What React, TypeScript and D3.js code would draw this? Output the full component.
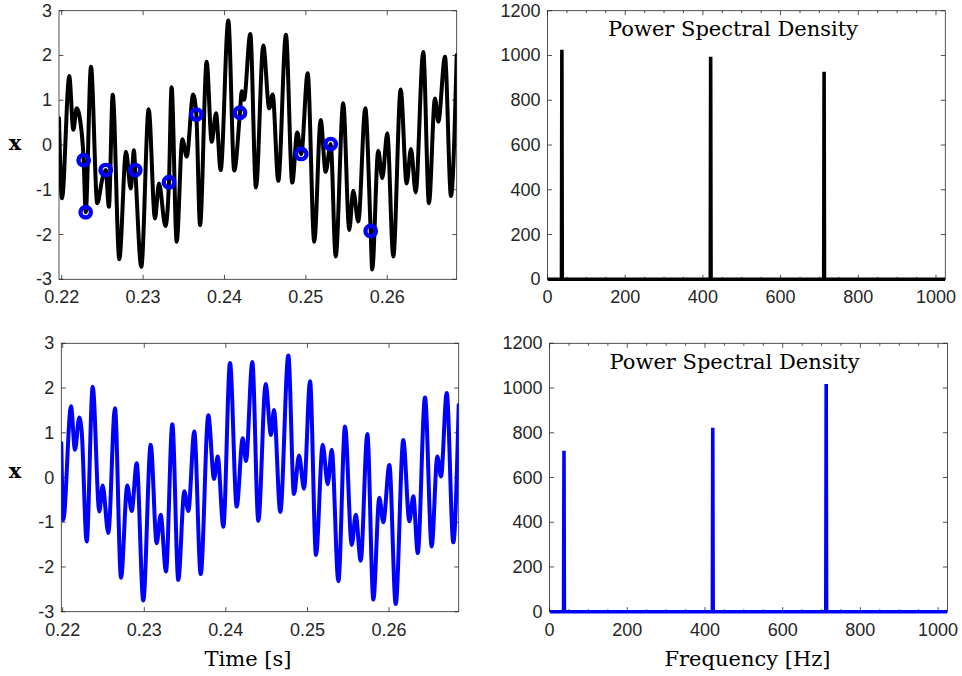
import React from 'react';
import * as d3 from 'd3';

// ---------- data ----------
const timeTop = [
  0.21967, 0.22004, 0.22093, 0.22143, 0.22184, 0.22216, 0.22270, 0.22295, 0.22360, 0.22437,
  0.22500, 0.22541, 0.22580, 0.22627, 0.22708, 0.22790, 0.22848, 0.22888, 0.22904, 0.22978,
  0.23069, 0.23146, 0.23195, 0.23275, 0.23318, 0.23350, 0.23413, 0.23482, 0.23536, 0.23615,
  0.23654, 0.23700, 0.23781, 0.23843, 0.23896, 0.23953, 0.24047, 0.24120, 0.24190, 0.24212,
  0.24240, 0.24317, 0.24387, 0.24477, 0.24550, 0.24592, 0.24661, 0.24755, 0.24833, 0.24894,
  0.24943, 0.25022, 0.25103, 0.25182, 0.25243, 0.25305, 0.25366, 0.25459, 0.25533, 0.25582,
  0.25644, 0.25730, 0.25796, 0.25815, 0.25889, 0.25939, 0.26000, 0.26074, 0.26165, 0.26238,
  0.26291, 0.26349, 0.26442, 0.26512, 0.26586, 0.26627, 0.26709, 0.26783, 0.26853,
];
const signalTop = [
  0.60, -1.19, 1.54, 0.34, 0.82, 0.67, -0.34, -1.50, 1.75, -1.30,
  -0.75, -0.56, -1.38, 1.12, -2.55, -0.15, -0.97, -0.12, -0.56, -2.72,
  0.80, -1.64, -0.86, -1.81, -0.83, 1.29, -2.16, 0.13, -0.26, 1.13,
  0.68, -1.79, 1.86, 0.07, 0.71, -0.56, 2.78, -0.57, 0.72, 1.20,
  1.01, 2.48, -0.95, 2.22, 0.82, 1.13, -0.80, 2.46, -0.84, 0.28,
  -0.20, 1.60, -2.16, 0.56, -0.60, 0.02, -2.49, 0.93, -1.90, -1.02,
  -1.71, 0.82, -1.92, -2.78, -0.13, -0.74, 0.26, -2.49, 1.24, -0.86,
  -0.09, -1.06, 2.08, -1.30, 1.04, 0.52, 1.97, -1.14, 2.01,
];
const sampleTimes = [0.22270, 0.22295, 0.22541, 0.22904, 0.23318, 0.23654, 0.24190, 0.24943, 0.25305, 0.25796];
const sampleValues = [-0.34, -1.50, -0.56, -0.56, -0.83, 0.68, 0.72, -0.20, 0.02, -1.92];

const timeBottom = [
  0.21983, 0.22007, 0.22102, 0.22151, 0.22203, 0.22233, 0.22294, 0.22368, 0.22449, 0.22490,
  0.22559, 0.22641, 0.22715, 0.22792, 0.22846, 0.22907, 0.22988, 0.23079, 0.23152, 0.23201,
  0.23266, 0.23344, 0.23417, 0.23491, 0.23540, 0.23613, 0.23692, 0.23785, 0.23855, 0.23900,
  0.23969, 0.24051, 0.24133, 0.24207, 0.24247, 0.24324, 0.24398, 0.24488, 0.24553, 0.24590,
  0.24667, 0.24766, 0.24835, 0.24897, 0.24958, 0.25032, 0.25105, 0.25187, 0.25249, 0.25298,
  0.25379, 0.25461, 0.25543, 0.25592, 0.25653, 0.25734, 0.25808, 0.25881, 0.25930, 0.26004,
  0.26082, 0.26175, 0.26249, 0.26298, 0.26352, 0.26441, 0.26523, 0.26592, 0.26637, 0.26707,
  0.26788, 0.26854,
];
const signalBottom = [
  0.77, -0.95, 1.59, 0.62, 1.34, 1.03, -1.43, 2.03, -0.76, -0.18,
  -1.24, 1.55, -2.24, -0.18, -0.75, 0.32, -2.75, 0.73, -1.47, -0.83,
  -2.10, 1.19, -2.29, -0.31, -0.75, 1.03, -2.16, 1.39, -0.03, 0.47,
  -1.10, 2.56, -0.65, 0.88, 0.37, 2.58, -0.97, 2.09, 0.95, 1.51,
  -0.77, 2.73, -0.37, 0.49, -0.25, 2.15, -1.73, 0.73, -0.15, 0.62,
  -2.32, 1.14, -1.51, -0.83, -1.86, 0.97, -2.73, -0.45, -1.00, 0.28,
  -2.83, 0.84, -0.98, -0.42, -1.69, 1.79, -1.54, 0.47, 0.02, 1.89,
  -1.45, 1.62,
];

const peakFreqs = [37, 420, 712];
const psdTop = [1025, 994, 927];
const psdBottom = [720, 822, 1018];

const timeTicks = [0.22, 0.23, 0.24, 0.25, 0.26];
const signalTicks = [-3, -2, -1, 0, 1, 2, 3];
const freqTicks = [0, 200, 400, 600, 800, 1000];
const freqMinorTicks = [50, 100, 150, 250, 300, 350, 450, 500, 550, 650, 700, 750, 850, 900, 950];
const psdTicks = [0, 200, 400, 600, 800, 1000, 1200];

// ---------- layout ----------
const W = 962;
const H = 676;
const AX = '#262626';
const TICK_FONT = '"Liberation Sans", Arial, Helvetica, sans-serif';
const SERIF = '"DejaVu Serif", "Liberation Serif", serif';
const TICK_SIZE = 18;

type Box = { x0: number; x1: number; y0: number; y1: number };

const boxTL: Box = { x0: 59, x1: 456.7, y0: 10.7, y1: 279.3 };
const boxBL: Box = { x0: 61.3, x1: 458.7, y0: 343.3, y1: 611.7 };
const boxTR: Box = { x0: 547.5, x1: 945.3, y0: 10.7, y1: 279.3 };
const boxBR: Box = { x0: 549.6, x1: 947.4, y0: 343.3, y1: 611.7 };

function Axes(props: {
  id: string;
  box: Box;
  xs: d3.ScaleLinear<number, number>;
  ys: d3.ScaleLinear<number, number>;
  xTicks: number[];
  yTicks: number[];
  xMinor?: number[];
  xFmt: (v: number) => string;
  children?: React.ReactNode;
}) {
  const { id, box, xs, ys, xTicks, yTicks, xMinor, xFmt, children } = props;
  const tl = 4.5;
  const ml = 2.5;
  return (
    <g>
      <defs>
        <clipPath id={id}>
          <rect x={box.x0} y={box.y0 - 3} width={box.x1 - box.x0} height={box.y1 - box.y0 + 6} />
        </clipPath>
      </defs>
      <rect x={box.x0} y={box.y0} width={box.x1 - box.x0} height={box.y1 - box.y0} fill="#fff" stroke={AX} strokeWidth={0.8} />
      {xTicks.map((t) => (
        <g key={'xt' + t}>
          <line x1={xs(t)} x2={xs(t)} y1={box.y1} y2={box.y1 - tl} stroke={AX} strokeWidth={0.8} />
          <line x1={xs(t)} x2={xs(t)} y1={box.y0} y2={box.y0 + tl} stroke={AX} strokeWidth={0.8} />
          <text x={xs(t)} y={box.y1 + 18} textAnchor="middle" dominantBaseline="central" fontFamily={TICK_FONT} fontSize={TICK_SIZE} fill={AX}>
            {xFmt(t)}
          </text>
        </g>
      ))}
      {(xMinor || []).map((t) => (
        <g key={'xm' + t}>
          <line x1={xs(t)} x2={xs(t)} y1={box.y1} y2={box.y1 - ml} stroke={AX} strokeWidth={0.8} />
          <line x1={xs(t)} x2={xs(t)} y1={box.y0} y2={box.y0 + ml} stroke={AX} strokeWidth={0.8} />
        </g>
      ))}
      {yTicks.map((t) => (
        <g key={'yt' + t}>
          <line x1={box.x0} x2={box.x0 + tl} y1={ys(t)} y2={ys(t)} stroke={AX} strokeWidth={0.8} />
          <line x1={box.x1} x2={box.x1 - tl} y1={ys(t)} y2={ys(t)} stroke={AX} strokeWidth={0.8} />
          <text x={box.x0 - 7} y={ys(t)} textAnchor="end" dominantBaseline="central" fontFamily={TICK_FONT} fontSize={TICK_SIZE} fill={AX}>
            {t < 0 ? '-' + Math.abs(t) : String(t)}
          </text>
        </g>
      ))}
      <g clipPath={`url(#${id})`}>{children}</g>
    </g>
  );
}

function SignalPanel(props: { id: string; box: Box; times: number[]; values: number[]; color: string; samples?: boolean }) {
  const { id, box, times, values, color, samples } = props;
  const domStart = times[0];
  const domEnd = times[times.length - 1];
  const xs = d3.scaleLinear().domain([domStart, domEnd]).range([box.x0, box.x1]);
  const ys = d3.scaleLinear().domain([-3, 3]).range([box.y1, box.y0]);
  const pts: [number, number][] = times.map((t, i) => [t, values[i]]);
  const line = d3
    .line<[number, number]>()
    .x((d) => xs(d[0]))
    .y((d) => ys(d[1]))
    .curve(d3.curveMonotoneX);
  return (
    <Axes id={id} box={box} xs={xs} ys={ys} xTicks={timeTicks} yTicks={signalTicks} xFmt={(v) => v.toFixed(2)}>
      <path d={line(pts) || ''} fill="none" stroke={color} strokeWidth={4} strokeLinejoin="round" strokeLinecap="round" />
      {samples &&
        sampleTimes.map((t, i) => (
          <circle key={i} cx={xs(t)} cy={ys(sampleValues[i])} r={5.2} fill="none" stroke="#0000ff" strokeWidth={4.4} />
        ))}
    </Axes>
  );
}

function PsdPanel(props: { id: string; box: Box; heights: number[]; color: string }) {
  const { id, box, heights, color } = props;
  const xs = d3.scaleLinear().domain([0, 1024]).range([box.x0, box.x1]);
  const ys = d3.scaleLinear().domain([0, 1200]).range([box.y1, box.y0]);
  const pts: [number, number][] = [[0, 0]];
  peakFreqs.forEach((f, i) => {
    pts.push([f - 1, 0], [f, heights[i]], [f + 1, 0]);
  });
  pts.push([1024, 0]);
  const line = d3
    .line<[number, number]>()
    .x((d) => xs(d[0]))
    .y((d) => ys(d[1]));
  return (
    <Axes id={id} box={box} xs={xs} ys={ys} xTicks={freqTicks} yTicks={psdTicks} xMinor={freqMinorTicks} xFmt={(v) => String(v)}>
      <path d={line(pts) || ''} fill="none" stroke={color} strokeWidth={3.6} strokeLinejoin="miter" />
    </Axes>
  );
}

export default function App() {
  return (
    <svg width={W} height={H} viewBox={`0 0 ${W} ${H}`} style={{ position: 'absolute', left: 0, top: 0, background: '#fff' }}>
      <rect x={0} y={0} width={W} height={H} fill="#fff" />
      <SignalPanel id="clipTL" box={boxTL} times={timeTop} values={signalTop} color="#000" samples />
      <PsdPanel id="clipTR" box={boxTR} heights={psdTop} color="#000" />
      <SignalPanel id="clipBL" box={boxBL} times={timeBottom} values={signalBottom} color="#0000ff" />
      <PsdPanel id="clipBR" box={boxBR} heights={psdBottom} color="#0000ff" />

      <text x={733} y={29} textAnchor="middle" dominantBaseline="central" fontFamily={SERIF} fontSize={21} fill="#000">
        Power Spectral Density
      </text>
      <text x={734.5} y={362} textAnchor="middle" dominantBaseline="central" fontFamily={SERIF} fontSize={21} fill="#000">
        Power Spectral Density
      </text>

      <text x={15} y={142} textAnchor="middle" dominantBaseline="central" fontFamily={SERIF} fontWeight="bold" fontSize={21} fill="#000">
        x
      </text>
      <text x={15} y={470} textAnchor="middle" dominantBaseline="central" fontFamily={SERIF} fontWeight="bold" fontSize={21} fill="#000">
        x
      </text>

      <text x={248} y={659} textAnchor="middle" dominantBaseline="central" fontFamily={SERIF} fontSize={21} fill="#000">
        Time [s]
      </text>
      <text x={747.5} y={659} textAnchor="middle" dominantBaseline="central" fontFamily={SERIF} fontSize={21} fill="#000">
        Frequency [Hz]
      </text>
    </svg>
  );
}
